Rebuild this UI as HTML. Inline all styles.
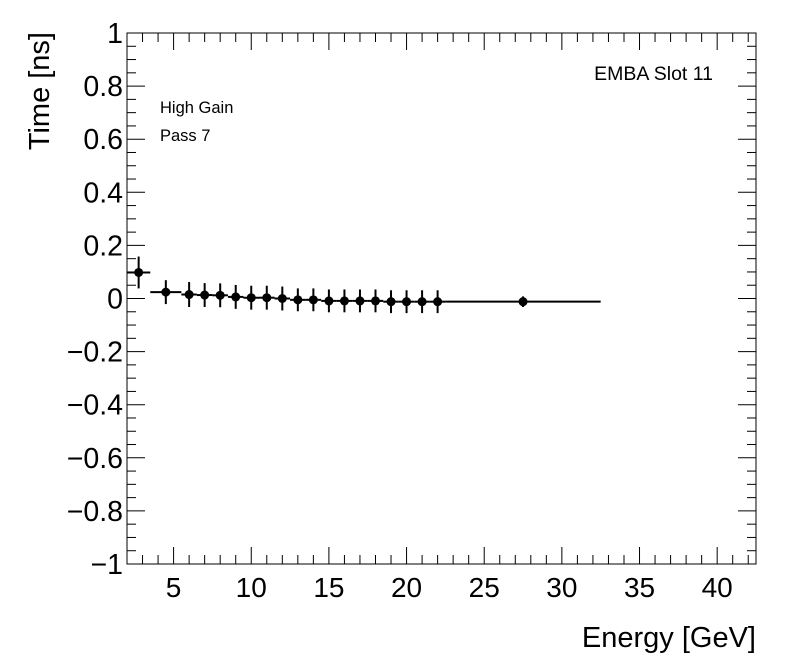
<!DOCTYPE html>
<html><head><meta charset="utf-8"><style>
body{margin:0;background:#fff}
svg{display:block;font-family:"Liberation Sans",Arial,sans-serif}
</style></head><body>
<svg id="c" width="796" height="672">
<rect width="796" height="672" fill="#fff"/>
<g id="axes"></g><g id="marks"></g>
<text x="49" y="32" transform="rotate(-90 49 32)" text-anchor="end" font-size="29">Time [ns]</text>
<text x="756" y="647" text-anchor="end" font-size="29">Energy [GeV]</text>
<text x="713" y="80" text-anchor="end" font-size="19.5">EMBA Slot 11</text>
<text x="160" y="113" font-size="16.5">High Gain</text>
<text x="160" y="141" font-size="16.5">Pass 7</text>
</svg>
<script>
const xCenters=[2.75,4.5,6,7,8,9,10,11,12,13,14,15,16,17,18,19,20,21,22,27.5];
const xLow=[2,3.5,5.5,6.5,7.5,8.5,9.5,10.5,11.5,12.5,13.5,14.5,15.5,16.5,17.5,18.5,19.5,20.5,21.5,22.5];
const xHigh=[3.5,5.5,6.5,7.5,8.5,9.5,10.5,11.5,12.5,13.5,14.5,15.5,16.5,17.5,18.5,19.5,20.5,21.5,22.5,32.5];
const yVals=[0.098,0.024,0.015,0.013,0.012,0.006,0.003,0.003,0,-0.005,-0.005,-0.009,-0.009,-0.009,-0.009,-0.012,-0.012,-0.012,-0.012,-0.012];
const yErrs=[0.06,0.045,0.047,0.045,0.045,0.045,0.045,0.045,0.045,0.043,0.043,0.043,0.043,0.043,0.043,0.043,0.043,0.043,0.043,0.02];
const xTicks=[5,10,15,20,25,30,35,40];
const yTicks=[-1,-0.8,-0.6,-0.4,-0.2,0,0.2,0.4,0.6,0.8,1];
const yTickLabels=["\u22121","\u22120.8","\u22120.6","\u22120.4","\u22120.2","0","0.2","0.4","0.6","0.8","1"];
const X0=127,X1=756,Y0=564,Y1=33,xmin=2,xmax=42.5,ymin=-1,ymax=1;
const sx=v=>X0+(v-xmin)/(xmax-xmin)*(X1-X0);
const sy=v=>Y0-(v-ymin)/(ymax-ymin)*(Y0-Y1);
const NS="http://www.w3.org/2000/svg";
const ax=document.getElementById('axes'),mk=document.getElementById('marks');
function mkEl(t,a,p){const e=document.createElementNS(NS,t);for(const k in a)e.setAttribute(k,a[k]);p.appendChild(e);return e;}
const fr=mkEl('rect',{x:X0,y:Y1,width:X1-X0,height:Y0-Y1,fill:'none',stroke:'#000','stroke-width':1},ax);


for(let v=3;v<=42;v++){const L=(v%5==0)?17:9;const x=sx(v);
 const t1=mkEl('line',{x1:x,x2:x,y1:Y0,y2:Y0-L,stroke:'#000'},ax);
 
 
 const t2=mkEl('line',{x1:x,x2:x,y1:Y1,y2:Y1+L,stroke:'#000'},ax);
 
 }
xTicks.forEach(v=>{const t=mkEl('text',{x:sx(v),y:Y0+33,'text-anchor':'middle','font-size':28},ax);t.textContent=v;
 
 });
for(let i=0;i<=40;i++){const v=-1+i*0.05;const L=(i%4==0)?18:9;const y=sy(v);
 const t1=mkEl('line',{x1:X0,x2:X0+L,y1:y,y2:y,stroke:'#000'},ax);
 
 
 const t2=mkEl('line',{x1:X1,x2:X1-L,y1:y,y2:y,stroke:'#000'},ax);
 
 }
yTicks.forEach((v,i)=>{const t=mkEl('text',{x:X0-4,y:sy(v)+10,'text-anchor':'end','font-size':28.5},ax);t.textContent=yTickLabels[i];
 
 });
xCenters.forEach((c,i)=>{const g=mkEl('g',{},mk);
 
 
 const y=sy(yVals[i]);
 mkEl('line',{x1:sx(xLow[i]),x2:sx(xHigh[i]),y1:y,y2:y,stroke:'#000','stroke-width':2},g);
 mkEl('line',{x1:sx(c),x2:sx(c),y1:sy(yVals[i]+yErrs[i]),y2:sy(yVals[i]-yErrs[i]),stroke:'#000','stroke-width':2},g);
 mkEl('circle',{cx:sx(c),cy:y,r:4.5,fill:'#000'},g);});
</script>
</body></html>
